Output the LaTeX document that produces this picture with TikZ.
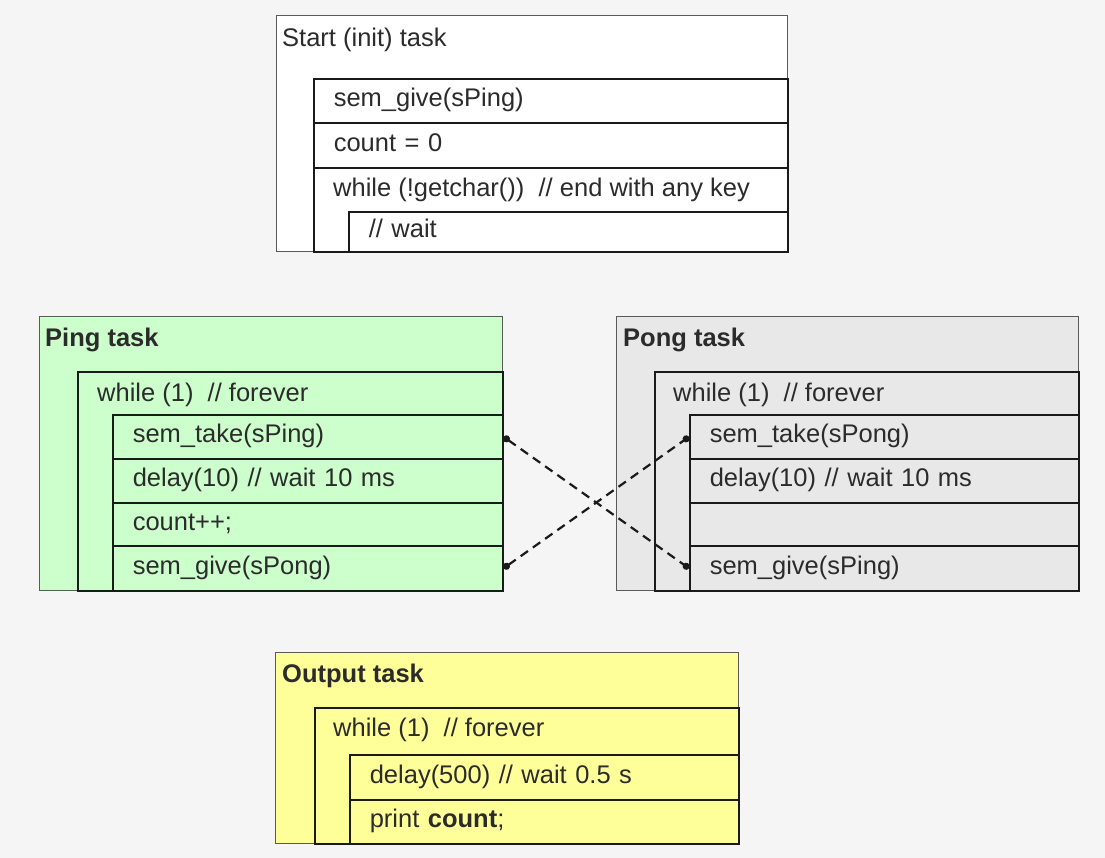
\documentclass[tikz,border=0pt]{standalone}
\usepackage{fontspec}
\setmainfont{Liberation Sans}
\usetikzlibrary{arrows.meta}
\definecolor{bg}{HTML}{F5F5F5}
\definecolor{pinggreen}{HTML}{CCFFCC}
\definecolor{ponggray}{HTML}{E8E8E8}
\definecolor{outyellow}{HTML}{FFFF99}
\definecolor{txt}{HTML}{2B2B2B}
\definecolor{edge}{HTML}{1A1A1A}
\definecolor{outeredge}{HTML}{5A5A5A}
\begin{document}
\begin{tikzpicture}[x=1pt,y=-1pt,
  every node/.style={font=\fontsize{25.5}{30}\selectfont, text=txt},
  outerbox/.style={draw=outeredge, line width=1.2pt, anchor=north west, inner sep=0pt},
  innerbox/.style={draw=edge, line width=1.6pt, anchor=north west, inner sep=0pt},
  rowbox/.style={draw=edge, line width=1.6pt, anchor=north west, inner xsep=20pt, inner ysep=0pt, align=left, text height=18pt, text depth=6pt},
  lbl/.style={anchor=base west, inner sep=0pt},
  ttl/.style={anchor=base west, inner sep=0pt, font=\fontsize{25.5}{30}\selectfont\bfseries},
  link/.style={draw=edge, line width=2.2pt, dash pattern=on 9pt off 6pt, {Circle[length=7pt,width=7pt]}-{Circle[length=7pt,width=7pt]}}
]
\fill[bg] (0,0) rectangle (1105,858);
\useasboundingbox (0,0) rectangle (1105,858);

% Start (init) task
\node[outerbox, fill=white, minimum width=511, minimum height=236] (start) at (276,15) {};
\node[lbl] (startT) at (282,47) {Start (init) task};
\node[rowbox, minimum width=474, text width=434, minimum height=44] (sgive) at (313,78) {sem\_give(sPing)};
\node[rowbox, minimum width=474, text width=434, minimum height=45] (scount) at (313,122) {count = 0};
\node[innerbox, minimum width=474, minimum height=84] (swhile) at (313,167) {};
\node[lbl] (swhileT) at (333,197) {while (!getchar())\ \ // end with any key};
\node[rowbox, minimum width=439, text width=399, minimum height=40] (swait) at (348,211) {// wait};

% Ping task
\node[outerbox, fill=pinggreen, minimum width=463, minimum height=274] (ping) at (39,316) {};
\node[ttl] (pingT) at (45,346) {Ping task};
\node[innerbox, minimum width=425, minimum height=219] (pwhile) at (77,371) {};
\node[lbl] (pwhileT) at (97,401) {while (1)\ \ // forever};
\node[rowbox, minimum width=390, text width=350, minimum height=44] (pTake) at (112,414) {sem\_take(sPing)};
\node[rowbox, minimum width=390, text width=350, minimum height=44] (pDelay) at (112,458) {delay(10) // wait 10 ms};
\node[rowbox, minimum width=390, text width=350, minimum height=43] (pCount) at (112,502) {count++;};
\node[rowbox, minimum width=390, text width=350, minimum height=45] (pGive) at (112,545) {sem\_give(sPong)};

% Pong task
\node[outerbox, fill=ponggray, minimum width=462, minimum height=274] (pong) at (616,316) {};
\node[ttl] (pongT) at (623,346) {Pong task};
\node[innerbox, minimum width=424, minimum height=219] (qwhile) at (654,371) {};
\node[lbl] (qwhileT) at (673,401) {while (1)\ \ // forever};
\node[rowbox, minimum width=389, text width=349, minimum height=44] (qTake) at (689,414) {sem\_take(sPong)};
\node[rowbox, minimum width=389, text width=349, minimum height=44] (qDelay) at (689,458) {delay(10) // wait 10 ms};
\node[rowbox, minimum width=389, text width=349, minimum height=43] (qEmpty) at (689,502) {};
\node[rowbox, minimum width=389, text width=349, minimum height=45] (qGive) at (689,545) {sem\_give(sPing)};

% Output task
\node[outerbox, fill=outyellow, minimum width=463, minimum height=191] (out) at (275,652) {};
\node[ttl] (outT) at (282,682) {Output task};
\node[innerbox, minimum width=424, minimum height=136] (owhile) at (314,707) {};
\node[lbl] (owhileT) at (333,736) {while (1)\ \ // forever};
\node[rowbox, minimum width=389, text width=349, minimum height=45] (oDelay) at (349,754) {delay(500) // wait 0.5 s};
\node[rowbox, minimum width=389, text width=349, minimum height=44] (oPrint) at (349,799) {print \textbf{count};};

% semaphore links
\draw[link] (pTake.east) -- (qGive.west);
\draw[link] (pGive.east) -- (qTake.west);
\end{tikzpicture}
\end{document}
